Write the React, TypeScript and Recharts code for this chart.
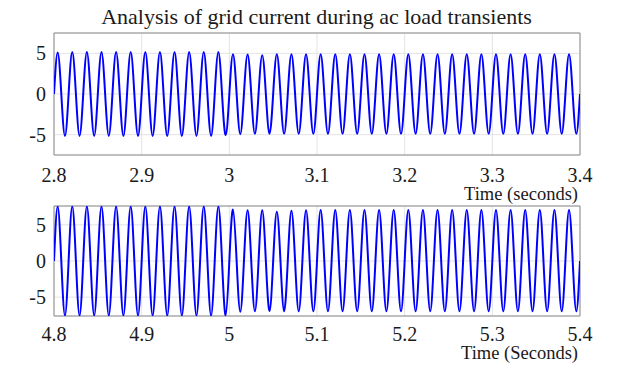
import { CartesianGrid, Label, Line, LineChart, ReferenceArea, XAxis, YAxis } from "recharts";

// grid current, 60 Hz, one value per positive / negative half cycle
const FREQ = 60;

const topStart = 2.8;
const topPeaks = [
  5.1, 5.15, 5.15, 5.15, 5.15, 5.15, 5.15, 5.15, 5.15, 5.15, 5.15, 5.15,
  4.9, 4.85, 4.75, 4.9, 4.9, 4.9, 4.9, 4.9, 4.9, 4.9, 4.9, 4.9,
  4.9, 4.9, 4.9, 4.9, 4.9, 4.9, 4.9, 4.9, 4.9, 4.9, 4.9, 4.9,
];
const topTroughs = [
  -5.15, -5.15, -5.15, -5.15, -5.15, -5.15, -5.15, -5.15, -5.15, -5.15, -5.15, -5.05,
  -4.95, -4.9, -4.9, -4.9, -4.9, -4.9, -4.9, -4.9, -4.9, -4.9, -4.9, -4.9,
  -4.9, -4.9, -4.9, -4.9, -4.9, -4.9, -4.9, -4.9, -4.9, -4.9, -4.9, -4.9,
];
const topTicks = [2.8, 2.9, 3, 3.1, 3.2, 3.3, 3.4];

const bottomStart = 4.8;
const bottomPeaks = [
  7.55, 7.55, 7.55, 7.55, 7.55, 7.55, 7.55, 7.55, 7.55, 7.55, 7.55, 7.55,
  7.1, 7.0, 7.0, 6.8, 6.95, 7.0, 7.05, 7.05, 7.05, 7.05, 7.05, 7.05,
  7.05, 7.05, 7.05, 7.05, 7.05, 7.05, 7.05, 7.05, 7.05, 7.05, 7.05, 7.05,
];
const bottomTroughs = [
  -7.55, -7.55, -7.55, -7.55, -7.55, -7.55, -7.55, -7.55, -7.55, -7.55, -7.55, -7.5,
  -7.0, -6.95, -6.9, -6.95, -6.95, -6.95, -6.95, -6.95, -6.95, -6.95, -6.95, -6.95,
  -6.95, -6.95, -6.95, -6.95, -6.95, -6.95, -6.95, -6.95, -6.95, -6.95, -6.95, -6.95,
];
const bottomTicks = [4.8, 4.9, 5, 5.1, 5.2, 5.3, 5.4];

const yTicks = [-5, 0, 5];

function buildWave(start: number, peaks: number[], troughs: number[]) {
  const q = 1 / (4 * FREQ);
  const rows: { t: number; i: number }[] = [];
  peaks.forEach((p, k) => {
    const t0 = start + k * 4 * q;
    rows.push({ t: t0, i: 0 }, { t: t0 + q, i: p }, { t: t0 + 2 * q, i: 0 }, { t: t0 + 3 * q, i: troughs[k] });
  });
  rows.push({ t: start + peaks.length * 4 * q, i: 0 });
  return rows;
}

const topData = buildWave(topStart, topPeaks, topTroughs);
const bottomData = buildWave(bottomStart, bottomPeaks, bottomTroughs);

const FONT = '"Liberation Serif", "Times New Roman", serif';
const tickStyle = { fontSize: 20, fill: "#1a1a1a", fontFamily: FONT };

function Panel({
  data,
  ticks,
  yMax,
  height,
  marginTop,
  marginBottom,
  axisHeight,
  tickMargin,
  xLabel,
}: {
  data: { t: number; i: number }[];
  ticks: number[];
  yMax: number;
  height: number;
  marginTop: number;
  marginBottom: number;
  axisHeight: number;
  tickMargin: number;
  xLabel: string;
}) {
  const x0 = ticks[0];
  const x1 = ticks[ticks.length - 1];
  return (
    <LineChart width={633} height={height} data={data} margin={{ top: marginTop, right: 53, bottom: marginBottom, left: 0 }}>
      <CartesianGrid stroke="#e3e3e3" strokeWidth={1} />
      <XAxis
        dataKey="t"
        type="number"
        domain={[x0, x1]}
        ticks={ticks}
        interval={0}
        height={axisHeight}
        tick={tickStyle}
        tickLine={false}
        tickSize={6}
        tickMargin={tickMargin}
        axisLine={false}
        allowDataOverflow
      >
        <Label
          value={xLabel}
          position="insideBottomRight"
          offset={2}
          style={{ fontSize: 18.5, fill: "#1a1a1a", fontFamily: FONT }}
        />
      </XAxis>
      <YAxis
        type="number"
        domain={[-yMax, yMax]}
        ticks={yTicks}
        width={54}
        tick={tickStyle}
        tickLine={false}
        axisLine={false}
        allowDataOverflow
      />
      <ReferenceArea x1={x0} x2={x1} y1={-yMax} y2={yMax} fill="none" stroke="#8c8c8c" strokeWidth={1} ifOverflow="extendDomain" />
      <Line type="natural" dataKey="i" stroke="#0000ff" strokeWidth={2} dot={false} isAnimationActive={false} />
    </LineChart>
  );
}

export default function App() {
  return (
    <div style={{ position: "absolute", left: 0, top: 0, width: 633, height: 389, background: "#fff", fontFamily: FONT }}>
      <div
        style={{
          position: "absolute",
          left: 0,
          top: 4,
          width: 633,
          textAlign: "center",
          fontSize: 22,
          lineHeight: "26px",
          color: "#1a1a1a",
        }}
      >
        Analysis of grid current during ac load transients
      </div>
      <div style={{ position: "absolute", left: 0, top: 0 }}>
        <Panel
          data={topData}
          ticks={topTicks}
          yMax={7.5}
          height={205}
          marginTop={33}
          marginBottom={3}
          axisHeight={47}
          tickMargin={7}
          xLabel="Time (seconds)"
        />
      </div>
      <div style={{ position: "absolute", left: 0, top: 200 }}>
        <Panel
          data={bottomData}
          ticks={bottomTicks}
          yMax={7.6}
          height={189}
          marginTop={6}
          marginBottom={28}
          axisHeight={45}
          tickMargin={5}
          xLabel="Time (Seconds)"
        />
      </div>
    </div>
  );
}
